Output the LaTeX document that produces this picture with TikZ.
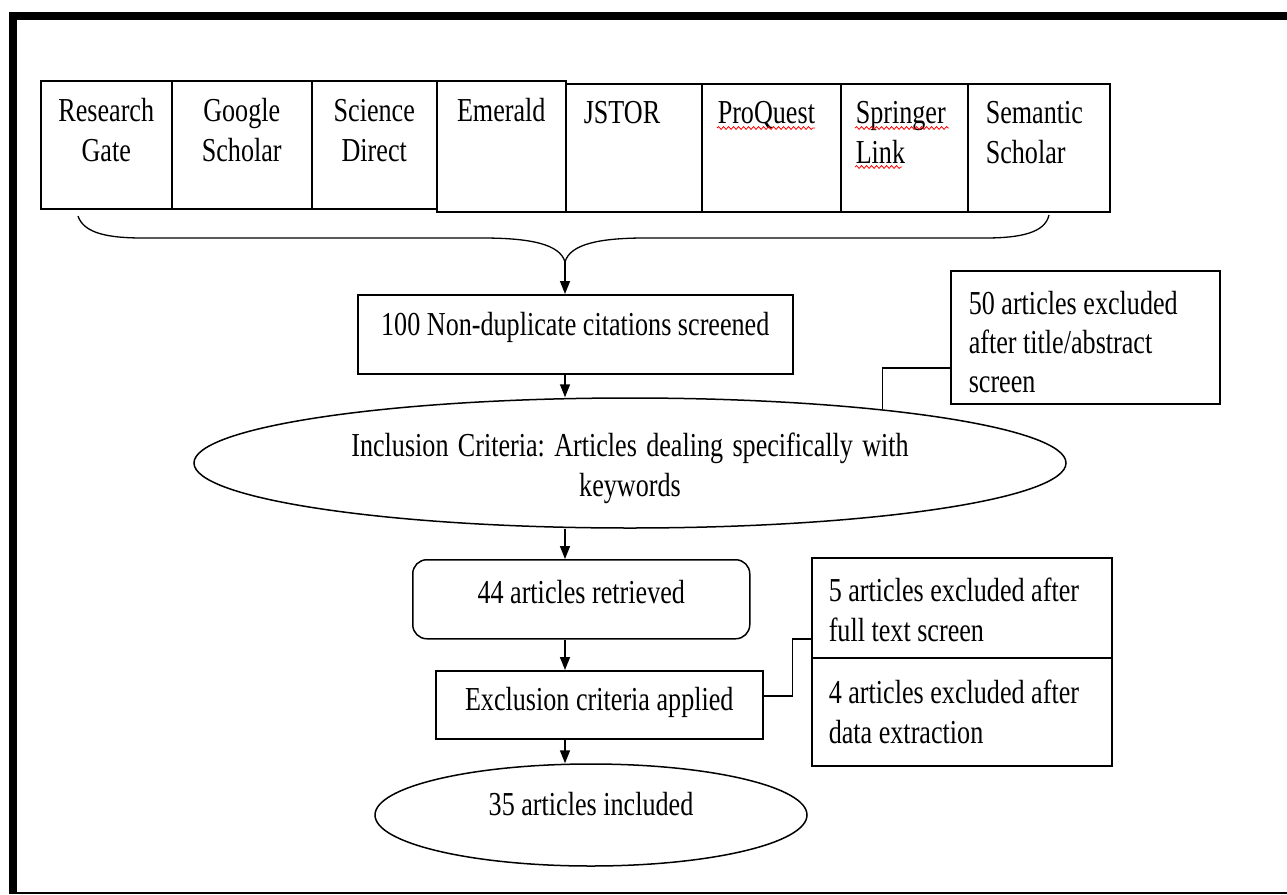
\documentclass[tikz,border=0pt]{standalone}
\usepackage{fontspec}
\setmainfont{Liberation Serif}[FakeStretch=0.78]
\usetikzlibrary{shapes.geometric,arrows.meta,decorations.pathmorphing}

\begin{document}
\begin{tikzpicture}[x=1pt,y=-1pt,line width=1.5pt,>={Triangle[length=13pt,width=10pt]},
    font=\fontsize{33.5}{40}\selectfont]
    \tikzstyle{src}=[draw, inner sep=0pt, anchor=north west]
    \tikzstyle{box}=[draw, inner sep=0pt, anchor=north west]
    \tikzstyle{oval}=[draw, ellipse, inner sep=0pt]
    \tikzstyle{squiggle}=[red, line width=0.8pt, decorate, decoration={snake, segment length=5pt, amplitude=1.4pt}]

    \useasboundingbox (0,0) rectangle (1287,894);

    % Frame
    \draw[line width=8pt] (13,894) -- (13,16) -- (1287,16);
    \draw[line width=2pt] (17,892.5) -- (1287,892.5);

    % Draw the databases
    \node[src, align=flush center, text width=131pt, text height=41pt, text depth=87pt] (rg) at (40,80) {Research\\Gate};
    \node[src, align=flush center, text width=140pt, text height=41pt, text depth=87pt] (gs) at (171,80) {Google\\Scholar};
    \node[src, align=flush center, text width=125pt, text height=41pt, text depth=87pt] (sd) at (311,80) {Science\\Direct};
    \node[src, align=flush center, text width=129pt, text height=41pt, text depth=90pt] (em) at (436,80) {Emerald};
    \node[src, align=flush left, inner xsep=18pt, text width=100pt, text height=40pt, text depth=88pt] (js) at (565,83) {JSTOR};
    \node[src, align=flush left, inner xsep=16pt, text width=107pt, text height=40pt, text depth=88pt] (pq) at (701,83) {ProQuest};
    \node[src, align=flush left, inner xsep=15pt, text width=97pt, text height=40pt, text depth=88pt] (sl) at (840,83) {Springer\\Link};
    \node[src, align=flush left, inner xsep=18pt, text width=106pt, text height=40pt, text depth=88pt] (ss) at (967,83) {Semantic\\Scholar};

    % spell-check marks
    \draw[squiggle] (717,128) -- (815,128);
    \draw[squiggle] (855,128) -- (949,128);
    \draw[squiggle] (855,167) -- (902,167);

    % Brace under the databases
    \draw[line width=1.3pt] (78,216) .. controls (84,234) and (110,238) .. (143,238) -- (482,238)
        .. controls (530,238) and (560,244) .. (565,262)
        .. controls (570,244) and (600,238) .. (645,238) -- (985,238)
        .. controls (1020,238) and (1045,233) .. (1049,215);
    \coordinate (tip) at (565,262);

    % Draw the flow
    \node[box, align=flush center, text width=435pt, text height=41pt, text depth=38pt] (dedup) at (357,294) {100 Non-duplicate citations screened};
    \node[oval, align=flush center, text width=580pt, minimum width=872pt, minimum height=130pt, text height=23pt, text depth=37pt] (incl) at (630,463)
        {\spaceskip=9.3pt\relax Inclusion Criteria:\ Articles dealing specifically with\\keywords};
    \node[box, rounded corners=14pt, align=flush center, text width=337pt, text height=44pt, text depth=35pt] (ret) at (412,559) {44 articles retrieved};
    \node[box, align=flush center, text width=327pt, text height=40pt, text depth=28pt] (crit) at (435,670) {Exclusion criteria applied};
    \node[oval, minimum width=432pt, minimum height=102pt, text height=23pt, text depth=23pt] (fin) at (591,815) {35 articles included};

    % Draw the exclusions
    \node[box, align=flush left, inner xsep=18pt, text width=233pt, text height=44pt, text depth=89pt,
        font=\fontsize{33.5}{39}\selectfont] (ex50) at (950,270) {50 articles excluded\\after title/abstract\\screen};
    \node[box, align=flush left, inner xsep=17pt, text width=266pt, text height=44pt, text depth=56pt] (ex5) at (811,557) {5 articles excluded after\\full text screen};
    \node[box, align=flush left, inner xsep=17pt, text width=266pt, text height=46pt, text depth=62pt] (ex4) at (811,657) {4 articles excluded after\\data extraction};

    % Connect the flow
    \path[->] (tip) edge (tip |- dedup.north);
    \path[->] (tip |- dedup.south) edge (tip |- incl.north);
    \path[->] (tip |- incl.south) edge (tip |- ret.north);
    \path[->] (tip |- ret.south) edge (tip |- crit.north);
    \path[->] (tip |- crit.south) edge (tip |- fin.north);

    % Connect the exclusions
    \draw (incl.12) |- ([yshift=-30.5pt]ex50.west);
    \draw ([yshift=9pt]crit.east) -- ++(29,0) |- ([yshift=-31pt]ex5.west);
\end{tikzpicture}
\end{document}
